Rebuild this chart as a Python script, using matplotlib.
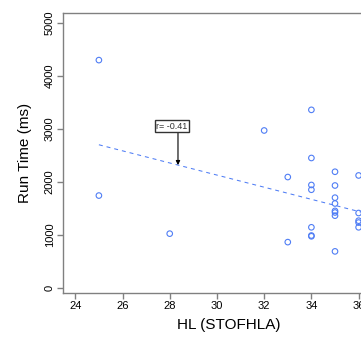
import numpy as np
import matplotlib
matplotlib.use("Agg")
import matplotlib.pyplot as plt

plt.rcParams['font.family'] = ['Liberation Sans', 'DejaVu Sans']

# HL (STOFHLA) score vs run time
hl = [25, 25, 28, 32, 33, 33, 34, 34, 34, 34, 34, 34, 34,
      35, 35, 35, 35, 35, 35, 35, 35, 36, 36, 36, 36, 36]
run_time = [4300, 1740, 1020, 2970, 2090, 860, 3360, 2450, 1940, 1850, 1140, 970, 985,
            2190, 1930, 1700, 1590, 1450, 1420, 1360, 685, 2120, 1410, 1265, 1230, 1140]

# fitted trend line (end points)
fit_x = [25, 37]
fit_y = [2700, 1325]
r_label = "r= -0.41"
r_at = 28.35

xticks = [24, 26, 28, 30, 32, 34, 36]
yticks = [0, 1000, 2000, 3000, 4000, 5000]

W, H = 361, 337
fig = plt.figure(figsize=(W / 100, H / 100), dpi=100)
ax = fig.add_axes([63 / W, (H - 292.7) / H, (394.5 - 63) / W, (292.7 - 12.7) / H])

pt_col = '#4f7df5'
ax.plot(fit_x, fit_y, color=pt_col, lw=0.75, dashes=(3.8, 3.8))
ax.scatter(hl, run_time, s=16, facecolors='none', edgecolors=pt_col, linewidths=0.8, zorder=3)

ax.set_xlim(23.48, 37.52)
ax.set_ylim(-96, 5196)
ax.set_xticks(xticks)
ax.set_yticks(yticks)

for s in ax.spines.values():
    s.set_color('#808080')
    s.set_linewidth(1.0)
ax.tick_params(axis='both', colors='#808080', labelcolor='black', length=4, width=1.0,
               labelsize=8, pad=2)
ax.tick_params(axis='y', labelrotation=90)
for lab in ax.get_yticklabels():
    lab.set_va('center')

ax.set_xlabel('HL (STOFHLA)', fontsize=11, labelpad=5)
ax.set_ylabel('Run Time (ms)', fontsize=11, labelpad=9)

# correlation annotation with arrow
arrow_y = np.interp(r_at, fit_x, fit_y)
ax.annotate('', xy=(r_at, arrow_y), xytext=(r_at, 2935),
            arrowprops=dict(arrowstyle='-|>', color='black', lw=0.8,
                            mutation_scale=6, shrinkA=0, shrinkB=0))
ax.text(27.44, 3051, r_label, fontsize=6.5, ha='left', va='center', color='#333333',
        bbox=dict(boxstyle='square,pad=0.18', facecolor='white', edgecolor='#333333', lw=1.0))

fig.savefig('out.png', dpi=100)
